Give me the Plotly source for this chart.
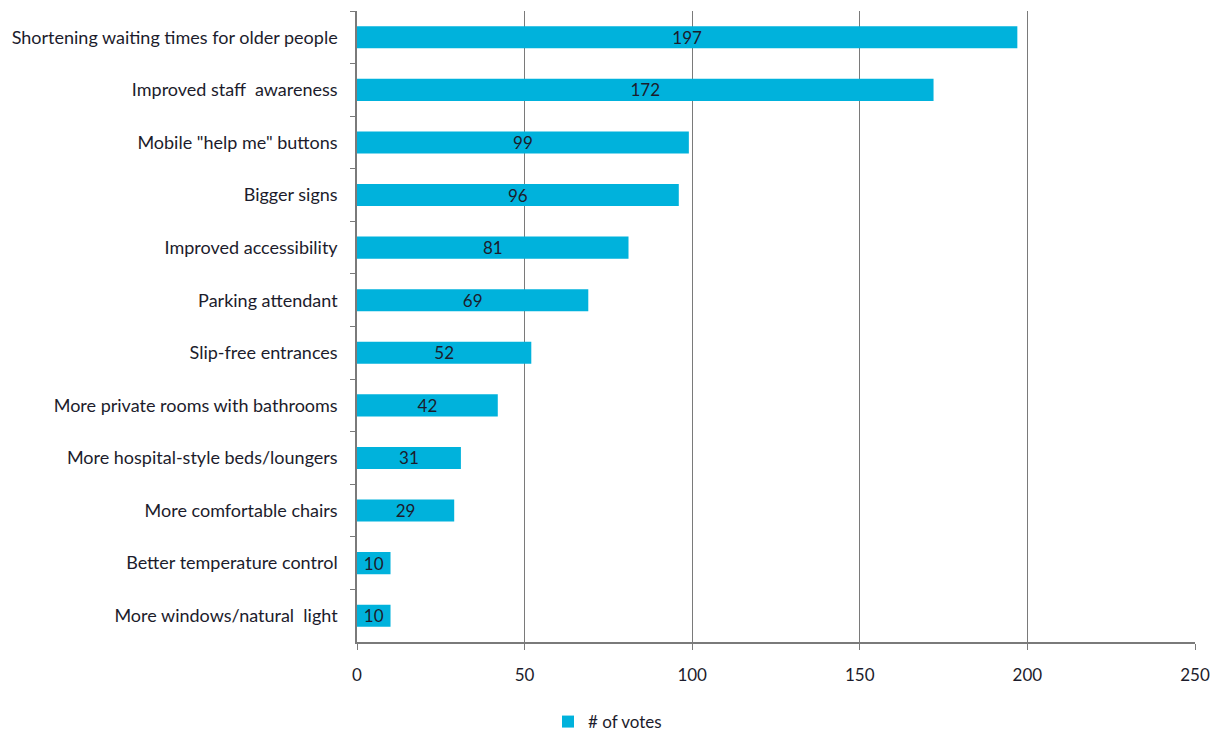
import plotly.graph_objects as go

categories = [
    "Shortening waiting times for older people",
    "Improved staff  awareness",
    "Mobile \"help me\" buttons",
    "Bigger signs",
    "Improved accessibility",
    "Parking attendant",
    "Slip-free entrances",
    "More private rooms with bathrooms",
    "More hospital-style beds/loungers",
    "More comfortable chairs",
    "Better temperature control",
    "More windows/natural  light",
]
votes = [197, 172, 99, 96, 81, 69, 52, 42, 31, 29, 10, 10]
x_ticks = [0, 50, 100, 150, 200, 250]

FONT = "Lato, 'Open Sans', sans-serif"
TXT = "#1c1c2c"

fig = go.Figure(go.Bar(
    y=categories, x=votes, orientation="h",
    name="# of votes",
    marker=dict(color="#00B2DC", line=dict(width=0)),
    text=[str(v) for v in votes],
    textposition="inside", insidetextanchor="middle",
    constraintext="none",
    textfont=dict(color=TXT, size=17, family=FONT),
    textangle=0,
))

fig.update_layout(
    width=1215, height=736,
    margin=dict(l=357, r=20, t=11, b=94, autoexpand=False),
    paper_bgcolor="white", plot_bgcolor="white",
    bargap=0.58,
    font=dict(family=FONT, size=17, color=TXT),
    showlegend=True,
    legend=dict(orientation="h", xref="container", yref="container",
                x=0.5, xanchor="center", y=0.019, yanchor="middle",
                font=dict(size=17, color=TXT, family=FONT),
                itemwidth=30),
    uniformtext=dict(mode=False),
)
fig.update_xaxes(
    range=[0, 250], tickvals=x_ticks, ticktext=[str(t) for t in x_ticks],
    showgrid=True, gridcolor="#7a7a7a", gridwidth=1,
    showline=True, linecolor="#7a7a7a", linewidth=1.5,
    ticks="outside", ticklen=6, tickcolor="#7a7a7a",
    ticklabelstandoff=11, zeroline=False, automargin=False,
    tickfont=dict(size=17, color=TXT),
)
fig.update_yaxes(
    autorange="reversed", type="category",
    showline=True, linecolor="#7a7a7a", linewidth=1.5,
    ticks="outside", ticklen=5, tickcolor="#7a7a7a", tickson="boundaries",
    ticklabelstandoff=14, showgrid=False, automargin=False,
    tickfont=dict(size=18, color=TXT),
)

fig.write_html("out.html")
